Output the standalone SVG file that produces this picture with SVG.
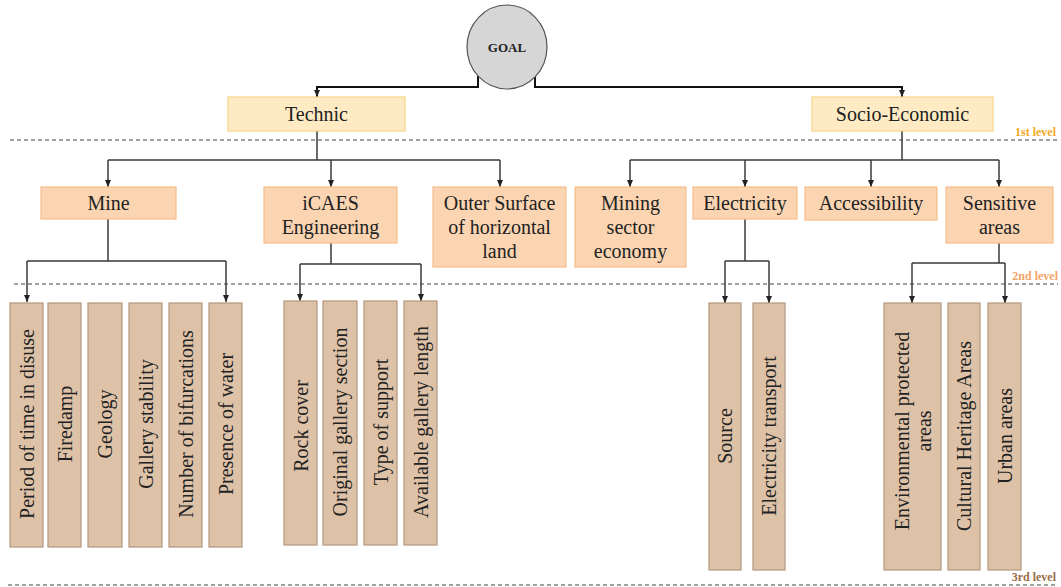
<svg xmlns="http://www.w3.org/2000/svg" width="1061" height="587" viewBox="0 0 1061 587">
  <style>
    text { font-family: "Liberation Serif", "Times New Roman", serif; fill: #222; }
    .t1 { font-size: 20px; text-anchor: middle; }
    .t2 { font-size: 20px; text-anchor: middle; }
    .t3 { font-size: 20px; text-anchor: middle; dominant-baseline: central; }
    .lvl1 { fill: #FEEBC4; stroke: #F7D488; stroke-width: 1.2; }
    .lvl2 { fill: #FBD5B2; stroke: #F5BD8A; stroke-width: 1.2; }
    .lvl3 { fill: #DEC2A8; stroke: #B3977D; stroke-width: 1.2; }
    .dash { stroke: #444; stroke-width: 1; stroke-dasharray: 4 3; fill: none; }
    .conn { stroke: #3a3a3a; stroke-width: 1.5; fill: none; }
    .main { stroke: #111; stroke-width: 2; fill: none; }
    .lvlabel { font-size: 12px; font-weight: bold; text-anchor: end; }
  </style>
  <defs>
    <marker id="tip" markerWidth="8" markerHeight="8" refX="7" refY="4" orient="auto" markerUnits="userSpaceOnUse" viewBox="0 0 8 8">
      <path d="M0,1 L7,4 L0,7 Z" fill="#222"/>
    </marker>
  </defs>

  <rect width="1061" height="587" fill="#ffffff"/>

  <!-- level separators -->
  <g id="levels">
    <line class="dash" x1="10" y1="140" x2="1058" y2="140"/>
    <line class="dash" x1="14" y1="284" x2="1058" y2="284"/>
    <line class="dash" x1="8" y1="585" x2="1058" y2="585"/>
    <text class="lvlabel" x="1056" y="136" style="fill:#F2A91E">1st level</text>
    <text class="lvlabel" x="1058" y="280" style="fill:#F3A46A">2nd level</text>
    <text class="lvlabel" x="1056" y="581" style="fill:#9A6C48">3rd level</text>
  </g>

  <!-- connectors -->
  <g id="connectors">
    <path class="main" d="M478,76 V87 H317 V97" marker-end="url(#tip)"/>
    <path class="main" d="M535,76 V87 H902 V97" marker-end="url(#tip)"/>

    <path class="conn" d="M317,131 V160"/>
    <path class="conn" d="M108,160 H500"/>
    <path class="conn" d="M108,160 V187" marker-end="url(#tip)"/>
    <path class="conn" d="M331,160 V187" marker-end="url(#tip)"/>
    <path class="conn" d="M500,160 V187" marker-end="url(#tip)"/>

    <path class="conn" d="M902,131 V160"/>
    <path class="conn" d="M630,160 H999"/>
    <path class="conn" d="M630,160 V187" marker-end="url(#tip)"/>
    <path class="conn" d="M745,160 V187" marker-end="url(#tip)"/>
    <path class="conn" d="M871,160 V187" marker-end="url(#tip)"/>
    <path class="conn" d="M999,160 V187" marker-end="url(#tip)"/>

    <path class="conn" d="M108,219 V261 M27,261 H226"/>
    <path class="conn" d="M27,261 V302" marker-end="url(#tip)"/>
    <path class="conn" d="M226,261 V302" marker-end="url(#tip)"/>

    <path class="conn" d="M331,243 V264 M300,264 H421"/>
    <path class="conn" d="M300,264 V301" marker-end="url(#tip)"/>
    <path class="conn" d="M421,264 V301" marker-end="url(#tip)"/>

    <path class="conn" d="M745,219 V261 M725,261 H769"/>
    <path class="conn" d="M725,261 V303" marker-end="url(#tip)"/>
    <path class="conn" d="M769,261 V303" marker-end="url(#tip)"/>

    <path class="conn" d="M999,243 V263 M912,263 H1005"/>
    <path class="conn" d="M912,263 V303" marker-end="url(#tip)"/>
    <path class="conn" d="M1005,263 V303" marker-end="url(#tip)"/>
  </g>

  <!-- goal -->
  <g id="goal">
    <ellipse cx="507" cy="47" rx="40" ry="42" fill="#D6D6D6" stroke="#555" stroke-width="1.2"/>
    <text x="507" y="52" style="font-size:13px;font-weight:bold;text-anchor:middle">GOAL</text>
  </g>

  <!-- 1st level -->
  <g id="technic">
    <rect class="lvl1" x="228" y="97" width="177" height="34"/>
    <text class="t1" x="316.5" y="121">Technic</text>
  </g>
  <g id="socio-economic">
    <rect class="lvl1" x="812" y="97" width="181" height="34"/>
    <text class="t1" x="902.5" y="121">Socio-Economic</text>
  </g>

  <!-- 2nd level -->
  <g id="mine">
    <rect class="lvl2" x="41" y="187" width="135" height="32"/>
    <text class="t2" x="108.5" y="210">Mine</text>
  </g>
  <g id="icaes">
    <rect class="lvl2" x="264" y="187" width="133" height="56"/>
    <text class="t2" x="330.5" y="210">iCAES</text>
    <text class="t2" x="330.5" y="234">Engineering</text>
  </g>
  <g id="outer-surface">
    <rect class="lvl2" x="433" y="187" width="133" height="80"/>
    <text class="t2" x="499.5" y="210">Outer Surface</text>
    <text class="t2" x="499.5" y="234">of horizontal</text>
    <text class="t2" x="499.5" y="258">land</text>
  </g>
  <g id="mining-sector">
    <rect class="lvl2" x="575" y="187" width="111" height="80"/>
    <text class="t2" x="630.5" y="210">Mining</text>
    <text class="t2" x="630.5" y="234">sector</text>
    <text class="t2" x="630.5" y="258">economy</text>
  </g>
  <g id="electricity">
    <rect class="lvl2" x="693" y="187" width="104" height="32"/>
    <text class="t2" x="745" y="210">Electricity</text>
  </g>
  <g id="accessibility">
    <rect class="lvl2" x="805" y="187" width="132" height="33"/>
    <text class="t2" x="871" y="210">Accessibility</text>
  </g>
  <g id="sensitive">
    <rect class="lvl2" x="946" y="187" width="107" height="56"/>
    <text class="t2" x="999.5" y="210">Sensitive</text>
    <text class="t2" x="999.5" y="234">areas</text>
  </g>

  <!-- 3rd level: mine -->
  <g id="period">
    <rect class="lvl3" x="10" y="303" width="33" height="244"/>
    <text class="t3" transform="translate(26.5,424) rotate(-90)">Period of time in disuse</text>
  </g>
  <g id="firedamp">
    <rect class="lvl3" x="48" y="303" width="33" height="244"/>
    <text class="t3" transform="translate(64.5,424) rotate(-90)">Firedamp</text>
  </g>
  <g id="geology">
    <rect class="lvl3" x="88" y="303" width="34" height="244"/>
    <text class="t3" transform="translate(105,424) rotate(-90)">Geology</text>
  </g>
  <g id="gallery-stability">
    <rect class="lvl3" x="129" y="303" width="33" height="244"/>
    <text class="t3" transform="translate(145.5,424) rotate(-90)">Gallery stability</text>
  </g>
  <g id="bifurcations">
    <rect class="lvl3" x="169" y="303" width="33" height="244"/>
    <text class="t3" transform="translate(185.5,424) rotate(-90)">Number of bifurcations</text>
  </g>
  <g id="water">
    <rect class="lvl3" x="209" y="303" width="33" height="244"/>
    <text class="t3" transform="translate(225.5,424) rotate(-90)">Presence of water</text>
  </g>

  <!-- 3rd level: iCAES -->
  <g id="rock-cover">
    <rect class="lvl3" x="284" y="301" width="33" height="244"/>
    <text class="t3" transform="translate(300.5,426) rotate(-90)">Rock cover</text>
  </g>
  <g id="gallery-section">
    <rect class="lvl3" x="323" y="301" width="34" height="244"/>
    <text class="t3" transform="translate(340,422) rotate(-90)">Original gallery section</text>
  </g>
  <g id="support">
    <rect class="lvl3" x="364" y="301" width="33" height="244"/>
    <text class="t3" transform="translate(380.5,422) rotate(-90)">Type of support</text>
  </g>
  <g id="gallery-length">
    <rect class="lvl3" x="404" y="301" width="33" height="244"/>
    <text class="t3" transform="translate(420.5,422) rotate(-90)">Available gallery length</text>
  </g>

  <!-- 3rd level: electricity -->
  <g id="source">
    <rect class="lvl3" x="709" y="303" width="32" height="267"/>
    <text class="t3" transform="translate(725,436) rotate(-90)">Source</text>
  </g>
  <g id="transport">
    <rect class="lvl3" x="753" y="303" width="32" height="267"/>
    <text class="t3" transform="translate(769,436) rotate(-90)">Electricity transport</text>
  </g>

  <!-- 3rd level: sensitive areas -->
  <g id="environmental">
    <rect class="lvl3" x="884" y="303" width="57" height="267"/>
    <text class="t3" transform="translate(902,431) rotate(-90)">Environmental protected</text>
    <text class="t3" transform="translate(924,431) rotate(-90)">areas</text>
  </g>
  <g id="heritage">
    <rect class="lvl3" x="948" y="303" width="32" height="267"/>
    <text class="t3" transform="translate(964,436) rotate(-90)">Cultural Heritage Areas</text>
  </g>
  <g id="urban">
    <rect class="lvl3" x="988" y="303" width="33" height="267"/>
    <text class="t3" transform="translate(1004.5,436) rotate(-90)">Urban areas</text>
  </g>
</svg>
